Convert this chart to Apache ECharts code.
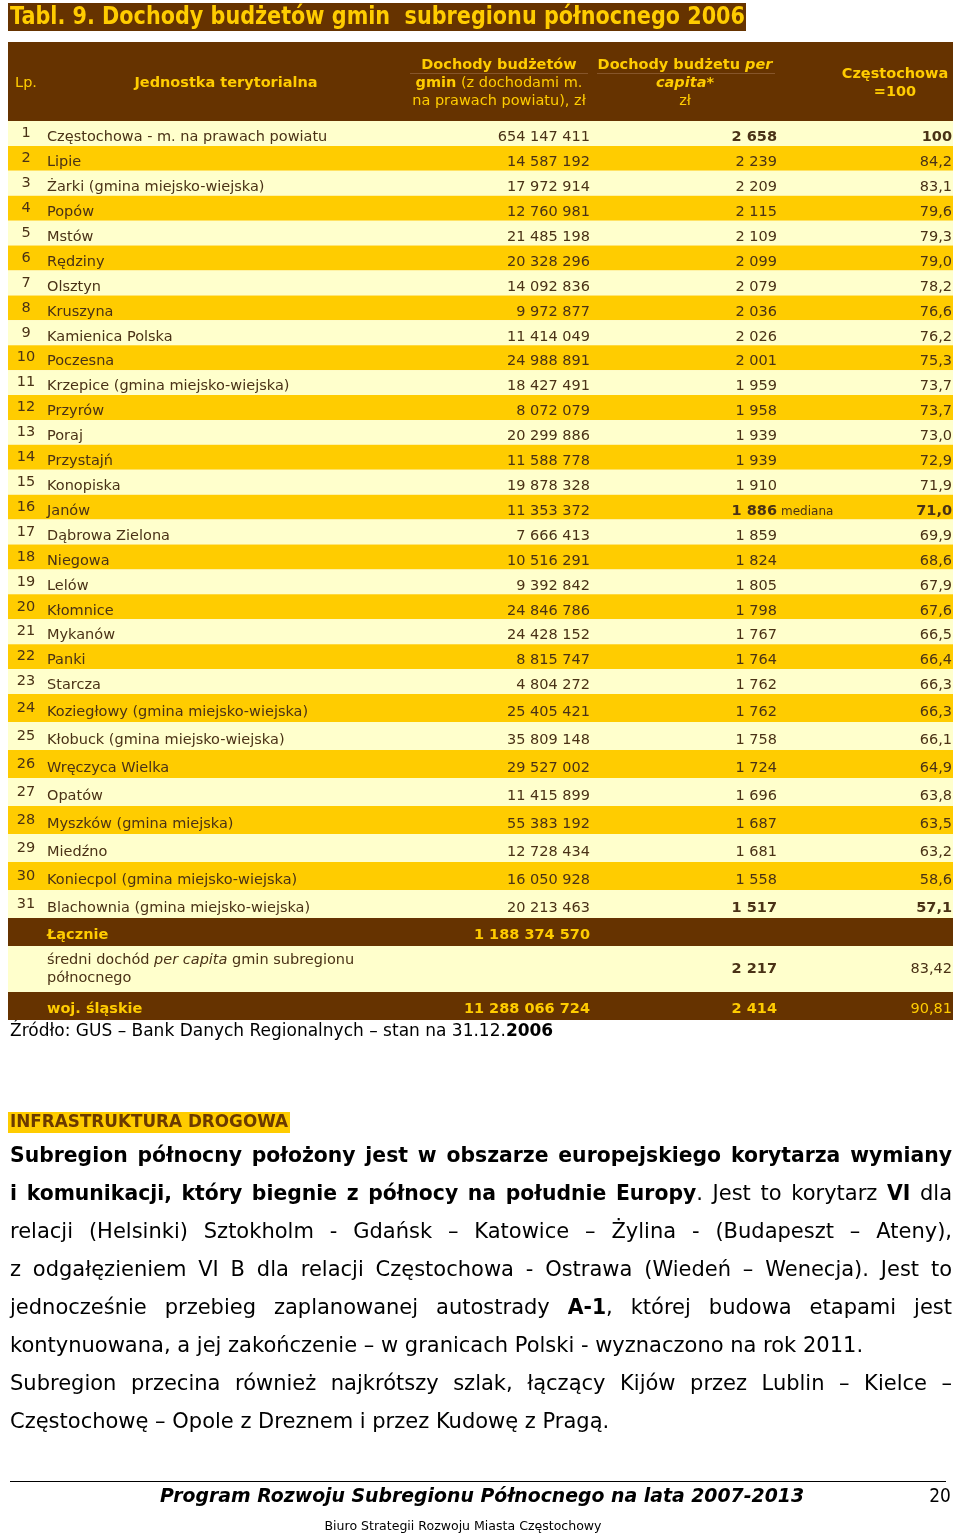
<!DOCTYPE html>
<html><head><meta charset="utf-8">
<script src="https://cdn.jsdelivr.net/npm/echarts@6/dist/echarts.min.js"></script>
<style>html,body{margin:0;padding:0;background:#fff}#c{width:960px;height:1535px}</style>
</head><body><div id="c"></div>
<script>
// ---------------- DATA ----------------
const lp = [1,2,3,4,5,6,7,8,9,10,11,12,13,14,15,16,17,18,19,20,21,22,23,24,25,26,27,28,29,30,31];
const names = [
 'Częstochowa - m. na prawach powiatu','Lipie','Żarki (gmina miejsko-wiejska)','Popów','Mstów','Rędziny','Olsztyn','Kruszyna',
 'Kamienica Polska','Poczesna','Krzepice (gmina miejsko-wiejska)','Przyrów','Poraj','Przystajń','Konopiska','Janów',
 'Dąbrowa Zielona','Niegowa','Lelów','Kłomnice','Mykanów','Panki','Starcza','Koziegłowy (gmina miejsko-wiejska)',
 'Kłobuck (gmina miejsko-wiejska)','Wręczyca Wielka','Opatów','Myszków (gmina miejska)','Miedźno','Koniecpol (gmina miejsko-wiejska)',
 'Blachownia (gmina miejsko-wiejska)'];
const dochody = [654147411,14587192,17972914,12760981,21485198,20328296,14092836,9972877,11414049,24988891,18427491,8072079,
 20299886,11588778,19878328,11353372,7666413,10516291,9392842,24846786,24428152,8815747,4804272,25405421,35809148,29527002,
 11415899,55383192,12728434,16050928,20213463];
const perCapita = [2658,2239,2209,2115,2109,2099,2079,2036,2026,2001,1959,1958,1939,1939,1910,1886,1859,1824,1805,1798,1767,1764,
 1762,1762,1758,1724,1696,1687,1681,1558,1517];
const indexCz = [100,84.2,83.1,79.6,79.3,79.0,78.2,76.6,76.2,75.3,73.7,73.7,73.0,72.9,71.9,71.0,69.9,68.6,67.9,67.6,66.5,66.4,
 66.3,66.3,66.1,64.9,63.8,63.5,63.2,58.6,57.1];
const highlightedLp = [1,16,31];
const medianLp = 16;
const summaryLabels = ['Łącznie','średni dochód per capita gmin subregionu północnego','woj. śląskie'];
const summaryDochody = [1188374570,null,11288066724];
const summaryPerCapita = [null,2217,2414];
const summaryIndex = [null,83.42,90.81];
const headerLabels = ['Lp.','Jednostka terytorialna'];

// ---------------- STYLE / LAYOUT ----------------
const FONT = '"DejaVu Sans", Verdana, sans-serif';
const GOLD = '#FFCC00', BROWN = '#663300', CREAM = '#FFFFCC', YELLOW = '#FFCC00', INK = '#4A3216';
const FS = 14.5;
const COL = {lp:26, name:47, doch:590, pc:777, idx:952};
const mctx = document.createElement('canvas').getContext('2d');
function tw(t, size, weight, style){ mctx.font = (style||'normal')+' '+(weight||'normal')+' '+size+'px '+FONT; return mctx.measureText(t).width; }
function fmtInt(n){ return String(n).replace(/\B(?=(\d{3})+(?!\d))/g,' '); }
function fmtDec(v,d){ return v.toFixed(d).replace('.',','); }
function T(x,y,text,o){
  return {type:'text', style:Object.assign({x:x,y:y,text:text,fill:INK,fontFamily:FONT,fontSize:FS,fontWeight:'normal',
    align:'left',verticalAlign:'middle',textAlign:'left',textVerticalAlign:'middle'},o||{})};
}
function A(o){ if(o.align){o.textAlign=o.align;} return o; }

function rowRenderer(start){
  return function(params, api){
    const i = api.value(1), r = start + i, cs = params.coordSys;
    const c = api.coord([0,i]), h = api.size([0,1])[1];
    const top = c[1]-h/2, ty = c[1]+4;
    const hl = highlightedLp.indexOf(lp[r]) >= 0;
    const ch = [
      {type:'rect', shape:{x:cs.x,y:top,width:cs.width,height:h}, style:{fill: r%2===0?CREAM:YELLOW}},
      T(COL.lp, ty-4, String(lp[r]), A({align:'center'})),
      T(COL.name, ty, names[r]),
      T(COL.doch, ty, fmtInt(dochody[r]), A({align:'right'})),
      T(COL.pc, ty, fmtInt(perCapita[r]), A({align:'right', fontWeight: hl?'bold':'normal'})),
      T(COL.idx, ty, fmtDec(indexCz[r], r===0?0:1), A({align:'right', fontWeight: hl?'bold':'normal'}))
    ];
    if (lp[r] === medianLp) ch.push(T(COL.pc+4, ty+1, 'mediana', {fontSize:12}));
    return {type:'group', children:ch};
  };
}
function summaryRenderer(k){
  return function(params, api){
    const cs = params.coordSys, c = api.coord([0,0]), h = api.size([0,1])[1];
    const top = c[1]-h/2;
    const dark = k !== 1;
    const col = dark ? GOLD : INK;
    const ty = dark ? c[1]+3 : c[1];
    const ch = [{type:'rect', shape:{x:cs.x,y:top,width:cs.width,height:h}, style:{fill: dark?BROWN:CREAM}}];
    if (dark) {
      ch.push(T(COL.name, ty, summaryLabels[k], {fill:col, fontWeight:'bold'}));
    } else {
      const lab = summaryLabels[k];
      const a = lab.indexOf('per capita');
      const b = lab.indexOf(' północnego');
      ch.push({type:'text', style:{x:COL.name, y:ty, text:'{n|'+lab.slice(0,a)+'}{i|per capita}{n|'+lab.slice(a+10,b)+'}\n{n|'+lab.slice(b+1)+'}',
        align:'left', verticalAlign:'middle', textAlign:'left', textVerticalAlign:'middle', fill:col, fontFamily:FONT, fontSize:FS, lineHeight:18,
        rich:{n:{fontFamily:FONT,fontSize:FS,fill:col,lineHeight:18}, i:{fontFamily:FONT,fontSize:FS,fontStyle:'italic',fill:col,lineHeight:18}}}});
    }
    if (summaryDochody[k] != null) ch.push(T(COL.doch, ty, fmtInt(summaryDochody[k]), A({align:'right', fill:col, fontWeight:'bold'})));
    if (summaryPerCapita[k] != null) ch.push(T(COL.pc, ty, fmtInt(summaryPerCapita[k]), A({align:'right', fill:col, fontWeight:'bold'})));
    if (summaryIndex[k] != null) ch.push(T(COL.idx, ty, fmtDec(summaryIndex[k],2), A({align:'right', fill:col})));
    return {type:'group', children:ch};
  };
}

const blocks = [
  {top:121, height:573, start:0, count:23},
  {top:694, height:224, start:23, count:8}
];
const sumBlocks = [{top:918,height:28},{top:946,height:46},{top:992,height:28}];

const grid=[], xAxis=[], yAxis=[], series=[];
blocks.forEach((b,gi)=>{
  grid.push({left:8, width:945, top:b.top, height:b.height, outerBoundsMode:'none', containLabel:false});
  xAxis.push({type:'value', gridIndex:gi, min:0, max:1, show:false});
  yAxis.push({type:'category', gridIndex:gi, inverse:true, show:false, data: lp.slice(b.start,b.start+b.count)});
  series.push({type:'custom', xAxisIndex:gi, yAxisIndex:gi, renderItem: rowRenderer(b.start),
    data: lp.slice(b.start,b.start+b.count).map((v,i)=>[0,i]), silent:true});
});
sumBlocks.forEach((b,k)=>{
  const gi = grid.length;
  grid.push({left:8, width:945, top:b.top, height:b.height, outerBoundsMode:'none', containLabel:false});
  xAxis.push({type:'value', gridIndex:gi, min:0, max:1, show:false});
  yAxis.push({type:'category', gridIndex:gi, inverse:true, show:false, data:[summaryLabels[k]]});
  series.push({type:'custom', xAxisIndex:gi, yAxisIndex:gi, renderItem: summaryRenderer(k), data:[[0,0]], silent:true});
});

// ---------------- GRAPHIC (titles, header, text) ----------------
const G = [];
function gtext(x,y,text,o){
  const st = Object.assign({text:text, x:0, y:0, fill:'#000', fontFamily:FONT, fontSize:16, fontWeight:'normal', fontStyle:'normal',
    align:'left', verticalAlign:'middle', textAlign:'left', textVerticalAlign:'middle'}, o.style||{});
  if (st.align) st.textAlign = st.align;
  const e = {type:'text', x:x, y:y, style:st, silent:true};
  if (o.scaleX) { e.scaleX = o.scaleX; }
  G.push(e);
}
// title
const titleText = 'Tabl. 9. Dochody budżetów gmin  subregionu północnego 2006';
G.push({type:'rect', shape:{x:8,y:3,width:738,height:28}, style:{fill:BROWN}, silent:true});
gtext(10,18,titleText,{style:{fill:GOLD,fontSize:24,fontWeight:'bold'}, scaleX: 735/tw(titleText,24,'bold')});
// header
G.push({type:'rect', shape:{x:8,y:42,width:945,height:79}, style:{fill:BROWN}, silent:true});
G.push({type:'line', shape:{x1:410,y1:73.5,x2:588,y2:73.5}, style:{stroke:'#86552a',lineWidth:1}, silent:true});
G.push({type:'line', shape:{x1:597,y1:73.5,x2:775,y2:73.5}, style:{stroke:'#86552a',lineWidth:1}, silent:true});
const hs = {fill:GOLD, fontSize:FS, align:'center'};
const hrich = {b:{fontFamily:FONT,fontSize:FS,fontWeight:'bold',fill:GOLD}, n:{fontFamily:FONT,fontSize:FS,fill:GOLD},
  bi:{fontFamily:FONT,fontSize:FS,fontWeight:'bold',fontStyle:'italic',fill:GOLD}};
gtext(26,83,headerLabels[0],{style:hs});
gtext(226,83,headerLabels[1],{style:Object.assign({},hs,{fontWeight:'bold'})});
gtext(499,65,'Dochody budżetów',{style:Object.assign({},hs,{fontWeight:'bold'})});
gtext(499,83,'{b|gmin}{n| (z dochodami m.}',{style:Object.assign({},hs,{rich:hrich})});
gtext(499,101,'na prawach powiatu), zł',{style:hs});
gtext(685,65,'{b|Dochody budżetu }{bi|per}',{style:Object.assign({},hs,{rich:hrich})});
gtext(685,83,'{bi|capita*}',{style:Object.assign({},hs,{rich:hrich})});
gtext(685,101,'zł',{style:hs});
gtext(895,74,'Częstochowa',{style:Object.assign({},hs,{fontWeight:'bold'})});
gtext(895,92,'=100',{style:Object.assign({},hs,{fontWeight:'bold'})});
// source
gtext(10,1032,'{n|Źródło: GUS – Bank Danych Regionalnych – stan na 31.12.}{b|2006}',{style:{fontSize:17,
  rich:{n:{fontFamily:FONT,fontSize:17,fill:'#000'}, b:{fontFamily:FONT,fontSize:17,fontWeight:'bold',fill:'#000'}}}});
// section heading
const secText = 'INFRASTRUKTURA DROGOWA';
G.push({type:'rect', shape:{x:8,y:1112,width:282,height:21}, style:{fill:YELLOW}, silent:true});
gtext(10,1123,secText,{style:{fill:'#6B3A00',fontSize:17,fontWeight:'bold'}, scaleX: 278/tw(secText,17,'bold')});
// paragraph
const para = [
  {j:true, segs:[['Subregion północny położony jest w obszarze europejskiego korytarza wymiany',1]]},
  {j:true, segs:[['i komunikacji, który biegnie z północy na południe Europy',1],['. Jest to korytarz ',0],['VI',1],[' dla',0]]},
  {j:true, segs:[['relacji (Helsinki) Sztokholm - Gdańsk – Katowice – Żylina - (Budapeszt – Ateny),',0]]},
  {j:true, segs:[['z odgałęzieniem VI B dla relacji Częstochowa - Ostrawa (Wiedeń – Wenecja). Jest to',0]]},
  {j:true, segs:[['jednocześnie przebieg zaplanowanej autostrady ',0],['A-1',1],[', której budowa etapami jest',0]]},
  {j:false, segs:[['kontynuowana, a jej zakończenie – w granicach Polski - wyznaczono na rok 2011.',0]]},
  {j:true, segs:[['Subregion przecina również najkrótszy szlak, łączący Kijów przez Lublin – Kielce –',0]]},
  {j:false, segs:[['Częstochowę – Opole z Dreznem i przez Kudowę z Pragą.',0]]}
];
const P = {size:21, left:10, right:952, y0:1157, lh:38, minGap:7, bScale:0.97};
function toWords(segs){
  const words=[]; let cur=[];
  segs.forEach(([t,b])=>{ t.split(' ').forEach((p,k)=>{ if(k>0){ if(cur.length) words.push(cur); cur=[]; } if(p) cur.push([p,b]); }); });
  if(cur.length) words.push(cur); return words;
}
para.forEach((ln,li)=>{
  const words = toWords(ln.segs);
  const pw = words.map(w=>w.map(([t,b])=>tw(t,P.size,b?'bold':'normal')*(b?P.bScale:1)));
  const ww = pw.map(a=>a.reduce((s,v)=>s+v,0));
  const total = ww.reduce((s,v)=>s+v,0);
  const avail = P.right-P.left;
  let f = 1, gap;
  if (ln.j) {
    if (total + P.minGap*(words.length-1) > avail) f = (avail - P.minGap*(words.length-1))/total;
    gap = (avail - total*f)/(words.length-1);
  } else gap = tw(' ',P.size);
  let x = P.left; const y = P.y0 + li*P.lh;
  words.forEach((w,k)=>{
    let px = x;
    w.forEach(([t,b],m)=>{
      const s = (b?P.bScale:1)*f;
      gtext(px,y,t,{style:{fontSize:P.size,fontWeight:b?'bold':'normal',fill:'#000'}, scaleX:s});
      px += pw[k][m]*f;
    });
    x += ww[k]*f + gap;
  });
});
// footer
G.push({type:'line', shape:{x1:10,y1:1481.5,x2:946,y2:1481.5}, style:{stroke:'#000',lineWidth:1}, silent:true});
const footTitle = 'Program Rozwoju Subregionu Północnego na lata 2007-2013';
gtext(482,1497,footTitle,{style:{fontSize:20,fontWeight:'bold',fontStyle:'italic',align:'center'}, scaleX:644/tw(footTitle,20,'bold','italic')});
gtext(940,1497,'20',{style:{fontSize:20,align:'center'}, scaleX:0.85});
const footSub = 'Biuro Strategii Rozwoju Miasta Częstochowy';
gtext(463,1527,footSub,{style:{fontSize:13,align:'center'}, scaleX:277/tw(footSub,13)});

const chart = echarts.init(document.getElementById('c'), null, {renderer:'canvas', width:960, height:1535});
chart.setOption({animation:false, backgroundColor:'#fff', grid, xAxis, yAxis, series, graphic:{elements:G}});
</script></body></html>
